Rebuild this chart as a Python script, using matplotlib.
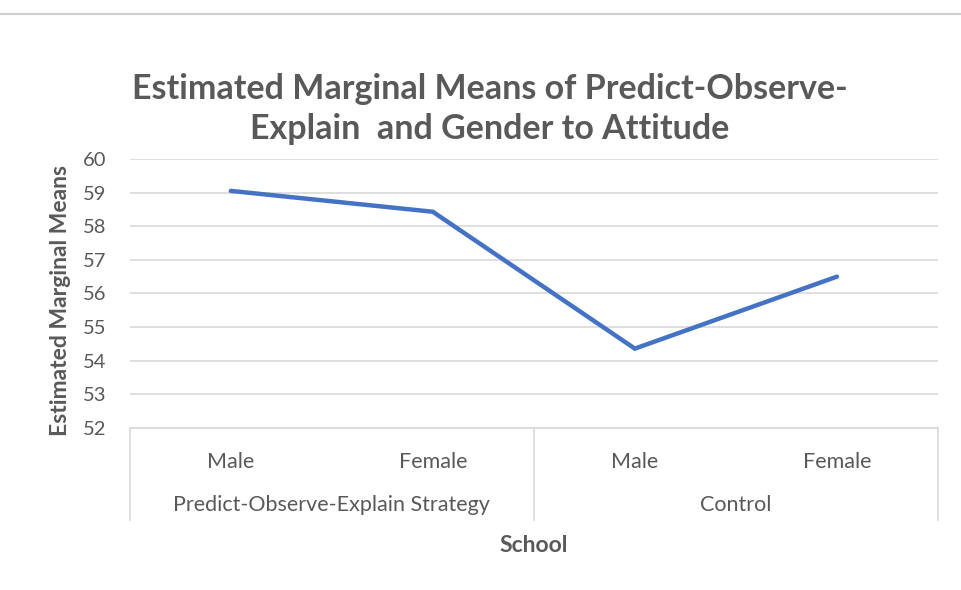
import matplotlib
matplotlib.use("Agg")
import matplotlib.pyplot as plt
import matplotlib.transforms as mtransforms

# Data
genders = ["Male", "Female", "Male", "Female"]
groups = ["Predict-Observe-Explain Strategy", "Control"]
means = [59.05, 58.43, 54.36, 56.5]
yticks = [52, 53, 54, 55, 56, 57, 58, 59, 60]

plt.rcParams['font.family'] = ['Lato', 'DejaVu Sans']
text_col = '#595959'
grid_col = '#d9d9d9'

fig = plt.figure(figsize=(9.61, 5.9), dpi=100)
ax = fig.add_axes([0.135, 0.2746, 0.841, 0.456])

x = list(range(len(means)))
ax.plot(x, means, color='#4472C4', linewidth=3.2, solid_capstyle='round',
        solid_joinstyle='miter', zorder=3)

ax.set_ylim(52, 60)
ax.set_xlim(-0.5, len(means) - 0.5)
ax.set_yticks(yticks)
ax.set_yticklabels([str(v) for v in yticks], fontsize=14.5, color=text_col)
ax.tick_params(axis='y', length=0, pad=17)
ax.grid(axis='y', color=grid_col, linewidth=1.2)
ax.set_axisbelow(True)
for s in ['top', 'right', 'left']:
    ax.spines[s].set_visible(False)
ax.spines['bottom'].set_color(grid_col)
ax.spines['bottom'].set_linewidth(1.2)

# first-level category labels
ax.set_xticks(x)
ax.set_xticklabels(genders, fontsize=15.5, color=text_col)
ax.tick_params(axis='x', length=0, pad=17)

# second-level group labels and separators
trans = mtransforms.blended_transform_factory(ax.transData, ax.transAxes)
for xv in [-0.5, 1.5, 3.5]:
    ax.plot([xv, xv], [0, -0.342], transform=trans, color=grid_col,
            linewidth=1.2, clip_on=False)
for i, g in enumerate(groups):
    ax.text(2 * i + 0.5, -0.286, g, transform=trans, ha='center', va='center',
            fontsize=15.5, color=text_col)

ax.text(1.5, -0.435, "School", transform=trans, ha='center', va='center',
        fontsize=16.5, fontweight='bold', color=text_col)
fig.text(0.063, 0.49, "Estimated Marginal Means", rotation=90, ha='center',
         va='center', fontsize=16.5, fontweight='bold', color=text_col)

fig.text(0.51, 0.815, "Estimated Marginal Means of Predict-Observe-\nExplain  and Gender to Attitude",
         ha='center', va='center', fontsize=24.5, fontweight='bold', color=text_col,
         linespacing=1.33)

# thin chart border at top
fig.add_artist(plt.Line2D([0, 1], [0.976, 0.976], color='#d0d0d0', linewidth=1.5))

fig.savefig("out.png", dpi=100)
